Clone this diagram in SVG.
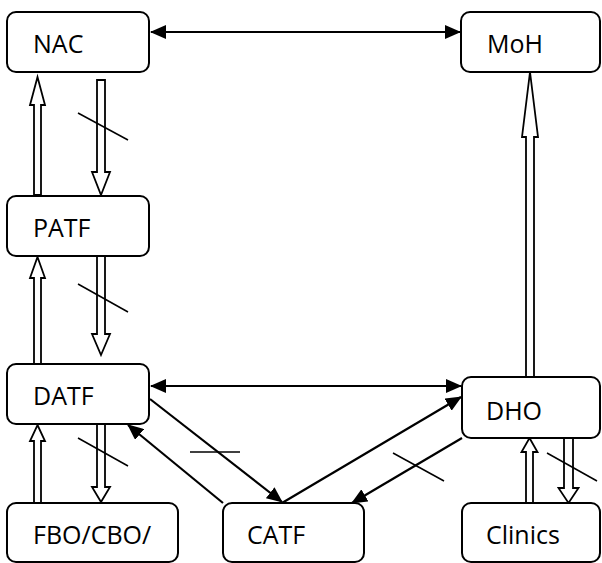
<svg xmlns="http://www.w3.org/2000/svg" width="602" height="563" viewBox="0 0 602 563">
<style>
.box{fill:#fff;stroke:#000;stroke-width:2}
.lbl{font-family:"Open Sans","Liberation Sans",sans-serif;font-size:25px;fill:#000}
.hol{fill:#fff;stroke:#000;stroke-width:1.8;stroke-linejoin:miter}
.con{stroke:#000;stroke-width:2.2;fill:none}
.sl{stroke:#000;stroke-width:1.5}
</style>
<defs>
<marker id="ah" markerUnits="userSpaceOnUse" markerWidth="16" markerHeight="14" refX="15" refY="7" orient="auto-start-reverse" viewBox="0 0 16 14">
<path d="M0,0 L16,7 L0,14 Z" fill="#000"/>
</marker>
</defs>
<rect width="602" height="563" fill="#fff"/>
<g id="connectors">
<line class="con" x1="151" y1="32" x2="460" y2="32" marker-start="url(#ah)" marker-end="url(#ah)"/>
<line class="con" x1="151" y1="386" x2="461" y2="386" marker-start="url(#ah)" marker-end="url(#ah)"/>
<line class="con" x1="150" y1="399" x2="282" y2="502" marker-end="url(#ah)"/>
<line class="con" x1="223" y1="503" x2="128" y2="425" marker-end="url(#ah)"/>
<line class="con" x1="282" y1="503" x2="461" y2="397" marker-end="url(#ah)"/>
<line class="con" x1="462" y1="438" x2="352" y2="503" marker-end="url(#ah)"/>
<polygon class="hol" points="37.5,77 45,105 41,105 41,195 34,195 34,105 30,105"/>
<polygon class="hol" points="101,195 110,172 105,172 105,80 97,80 97,172 92,172"/>
<polygon class="hol" points="37.5,257 45,278 41,278 41,364 34,364 34,278 30,278"/>
<polygon class="hol" points="101,355 110,334 105,334 105,256 97,256 97,334 92,334"/>
<polygon class="hol" points="37.5,425 45,441 41,441 41,503 34,503 34,441 30,441"/>
<polygon class="hol" points="101,502 110,487 105,487 105,424 97,424 97,487 92,487"/>
<polygon class="hol" points="530,72 538,137 534,137 534,377 526,377 526,137 522,137"/>
<polygon class="hol" points="529.5,438 537.5,452 533,452 533,503 526,503 526,452 521.5,452"/>
<polygon class="hol" points="568.5,503 578.5,488 573,488 573,438 564,438 564,488 558.5,488"/>
<line class="sl" x1="78" y1="113" x2="128" y2="140"/>
<line class="sl" x1="78" y1="284" x2="128" y2="312"/>
<line class="sl" x1="78" y1="438" x2="128" y2="466"/>
<line class="sl" x1="190" y1="452" x2="240" y2="452"/>
<line class="sl" x1="393" y1="453" x2="444" y2="481"/>
<line class="sl" x1="547" y1="453" x2="597" y2="481"/>
</g>
<g id="NAC"><rect class="box" x="7" y="12" width="142" height="60" rx="9"/><text class="lbl" x="33" y="53">NAC</text></g>
<g id="MoH"><rect class="box" x="461" y="12" width="139" height="60" rx="9"/><text class="lbl" x="487" y="53">MoH</text></g>
<g id="PATF"><rect class="box" x="7" y="196" width="142" height="60" rx="9"/><text class="lbl" x="33" y="237">PATF</text></g>
<g id="DATF"><rect class="box" x="7" y="364" width="142" height="60" rx="9"/><text class="lbl" x="33" y="405">DATF</text></g>
<g id="DHO"><rect class="box" x="462" y="377" width="138" height="61" rx="9"/><text class="lbl" x="486" y="420">DHO</text></g>
<g id="FBO"><rect class="box" x="7" y="503" width="171" height="59" rx="9"/><text class="lbl" x="33" y="544">FBO/CBO/</text></g>
<g id="CATF"><rect class="box" x="223" y="503" width="141" height="59" rx="9"/><text class="lbl" x="247" y="544">CATF</text></g>
<g id="Clinics"><rect class="box" x="462" y="503" width="138" height="59" rx="9"/><text class="lbl" x="486" y="544">Clinics</text></g>
</svg>
